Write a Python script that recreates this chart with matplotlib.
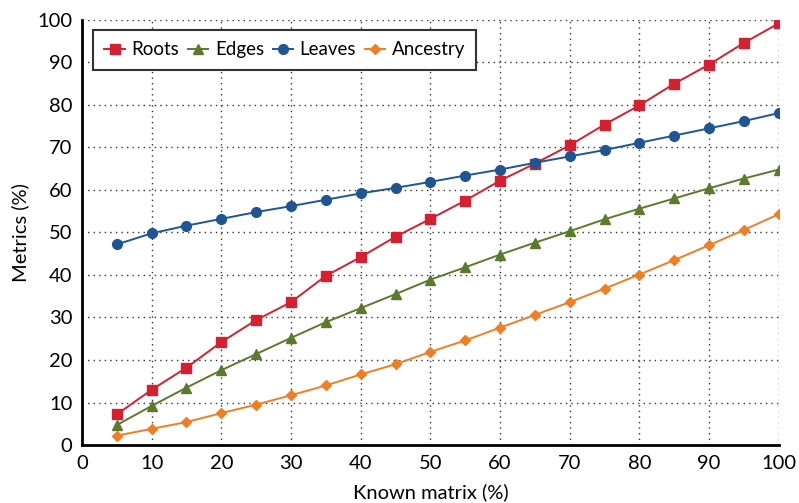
import numpy as np
import matplotlib
import matplotlib.pyplot as plt

matplotlib.use('Agg')

known = [5, 10, 15, 20, 25, 30, 35, 40, 45, 50, 55, 60, 65, 70, 75, 80, 85, 90, 95, 100]
roots = [7.2, 13.0, 18.2, 24.2, 29.4, 33.6, 39.8, 44.2, 49.0, 53.2,
         57.5, 62.2, 66.2, 70.5, 75.4, 79.9, 85.0, 89.5, 94.6, 99.2]
edges = [4.7, 9.2, 13.5, 17.6, 21.4, 25.2, 28.9, 32.2, 35.5, 38.9,
         41.8, 44.8, 47.6, 50.3, 53.1, 55.6, 58.0, 60.4, 62.7, 64.8]
leaves = [47.2, 49.8, 51.6, 53.2, 54.8, 56.2, 57.7, 59.2, 60.5, 61.9,
          63.4, 64.8, 66.4, 67.9, 69.4, 71.1, 72.8, 74.5, 76.2, 78.1]
ancestry = [2.2, 3.8, 5.4, 7.5, 9.5, 11.7, 14.0, 16.6, 19.0, 21.9,
            24.6, 27.6, 30.6, 33.6, 36.8, 40.1, 43.5, 47.0, 50.6, 54.3]

plt.rcParams['font.family'] = ['Lato', 'DejaVu Sans']

fig = plt.figure(figsize=(7.99, 5.03), dpi=100)
ax = fig.add_axes([0.1026, 0.1153, 0.872, 0.845])

ax.plot(known, roots, color='#d42030', marker='s', markersize=7, lw=1.4, label='Roots')
ax.plot(known, edges, color='#5b7a2e', marker='^', markersize=7, lw=1.4, label='Edges')
ax.plot(known, leaves, color='#1f5593', marker='o', markersize=7, lw=1.4, label='Leaves')
ax.plot(known, ancestry, color='#ef7f22', marker='D', markersize=5, lw=1.4, label='Ancestry')

ax.set_xlim(0, 100)
ax.set_ylim(0, 100)
ax.set_xticks(np.arange(0, 101, 10))
ax.set_yticks(np.arange(0, 101, 10))
ax.tick_params(labelsize=14.5, length=0, pad=7)
ax.grid(True, linestyle=(0, (1, 3)), color='#333333', linewidth=1)
for s in ['top', 'right']:
    ax.spines[s].set_visible(False)
for s in ['left', 'bottom']:
    ax.spines[s].set_linewidth(2)
ax.set_xlabel('Known matrix (%)', fontsize=14.5, labelpad=8)
ax.set_ylabel('Metrics (%)', fontsize=14.5, labelpad=6)

leg = ax.legend(loc='upper left', ncol=4, fontsize=13.5, fancybox=False,
                framealpha=1, edgecolor='#333333', handlelength=1.1,
                columnspacing=0.45, handletextpad=0.35, borderpad=0.6,
                borderaxespad=0, bbox_to_anchor=(0.016, 0.976))
leg.get_frame().set_linewidth(1.5)

fig.savefig('out.png', dpi=100)
